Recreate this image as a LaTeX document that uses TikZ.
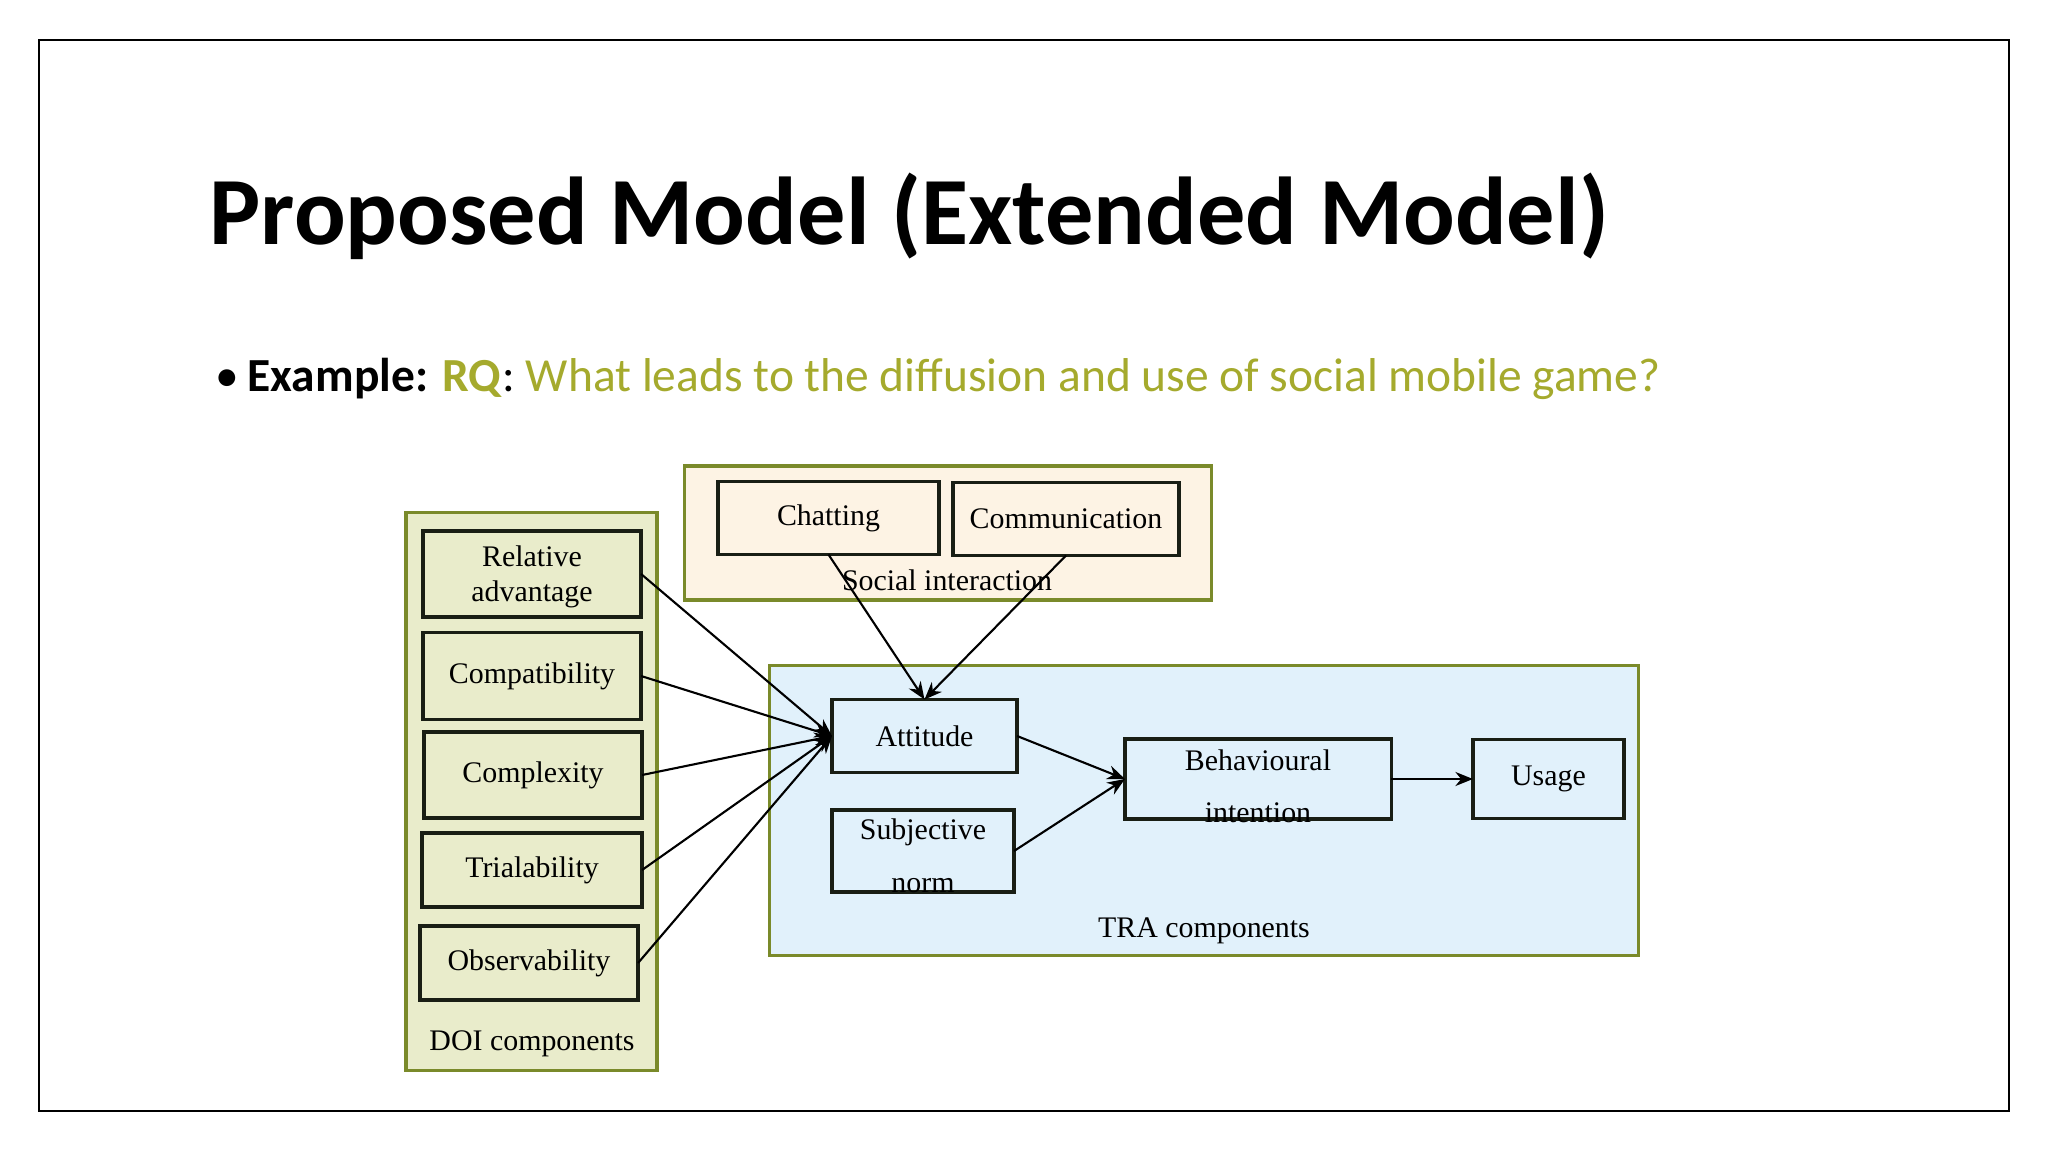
\documentclass[tikz,border=0pt]{standalone}
\usepackage{fontspec}
\setmainfont{Liberation Serif}
\newfontfamily\carlito{Carlito}
\usetikzlibrary{arrows.meta}
\definecolor{olivetxt}{RGB}{165,170,45}
\definecolor{grpedge}{RGB}{122,138,42}
\definecolor{doifill}{RGB}{233,236,203}
\definecolor{socfill}{RGB}{253,243,228}
\definecolor{trafill}{RGB}{225,241,251}
\definecolor{boxedge}{RGB}{25,30,20}
\begin{document}
\begin{tikzpicture}[x=0.01cm,y=-0.01cm,
  grp/.style={draw=grpedge,line width=0.9pt,inner sep=0pt,outer sep=0pt},
  bx/.style={draw=boxedge,line width=0.9pt,inner sep=0pt,outer sep=0pt,font=\fontsize{8.5}{10}\selectfont},
  lbl/.style={inner sep=0pt,font=\fontsize{8.5}{10}\selectfont},
  arr/.style={line width=0.6pt,draw=black,-{Stealth[length=5pt,width=4pt]}}]
\useasboundingbox (0,0) rectangle (2048,1152);
\fill[white] (0,0) rectangle (2048,1152);
\draw[line width=0.6pt] (39,40) rectangle (2009,1111);
% title
\node[anchor=base west,inner sep=0pt,font=\carlito\bfseries\fontsize{27.4}{33}\selectfont] (title) at (209,245) {Proposed Model (Extended Model)};
\node[anchor=base west,inner sep=0pt,font=\carlito\fontsize{13.5}{16}\selectfont] (bul) at (215,392) {\textbullet};
\node[anchor=base west,inner sep=0pt,font=\carlito\fontsize{13.5}{16}\selectfont] (rq) at (247,392) {\textbf{Example:} \textcolor{olivetxt}{\textbf{RQ}}: \textcolor{olivetxt}{What leads to the diffusion and use of social mobile game?}};
% groups
\node[grp,fill=doifill,minimum width=2.51cm,minimum height=5.57cm] (doi) at (531.5,791.5) {};
\node[grp,fill=socfill,minimum width=5.26cm,minimum height=1.34cm] (soc) at (948,533) {};
\node[grp,fill=trafill,minimum width=8.68cm,minimum height=2.89cm] (tra) at (1204,810.5) {};
\node[lbl] (doil) at (532,1044) {DOI components};
\node[lbl] (socl) at (947,580) {Social interaction};
\node[lbl] (tral) at (1204,931) {TRA components};
% DOI boxes
\node[bx,minimum width=2.18cm,minimum height=0.86cm] (ra) at (532,574) {};
\node[lbl] (ra1) at (532,556) {Relative};
\node[lbl] (ra2) at (532,594) {advantage};
\node[bx,minimum width=2.18cm,minimum height=0.87cm] (cpt) at (532,676) {Compatibility};
\node[bx,minimum width=2.18cm,minimum height=0.86cm] (cpx) at (533,775) {Complexity};
\node[bx,minimum width=2.20cm,minimum height=0.74cm] (tri) at (532,870) {Trialability};
\node[bx,minimum width=2.18cm,minimum height=0.74cm] (obs) at (529,963) {Observability};
% social boxes
\node[bx,minimum width=2.21cm,minimum height=0.73cm] (chat) at (828.5,518) {Chatting};
\node[bx,minimum width=2.26cm,minimum height=0.73cm] (comm) at (1066,519) {Communication};
% TRA boxes
\node[bx,minimum width=1.85cm,minimum height=0.73cm] (att) at (924.5,736) {Attitude};
\node[bx,minimum width=1.82cm,minimum height=0.82cm] (sn) at (923,851) {};
\node[lbl] (sn1) at (923,832) {Subjective};
\node[lbl] (sn2) at (923,886) {norm};
\node[bx,minimum width=2.66cm,minimum height=0.80cm] (bi) at (1258,779) {};
\node[lbl] (bi1) at (1258,760) {Behavioural};
\node[lbl] (bi2) at (1258,813) {intention};
\node[bx,minimum width=1.51cm,minimum height=0.79cm] (use) at (1548.5,779) {Usage};
% arrows
\draw[arr] (ra.east) -- (att.west);
\draw[arr] (cpt.east) -- (att.west);
\draw[arr] (cpx.east) -- (att.west);
\draw[arr] (tri.east) -- (att.west);
\draw[arr] (obs.east) -- (att.west);
\draw[arr] (chat.south) -- (att.north);
\draw[arr] (comm.south) -- (att.north);
\draw[arr] (att.east) -- (bi.west);
\draw[arr] (sn.east) -- (bi.west);
\draw[arr] (bi.east) -- (use.west);
\end{tikzpicture}
\end{document}
